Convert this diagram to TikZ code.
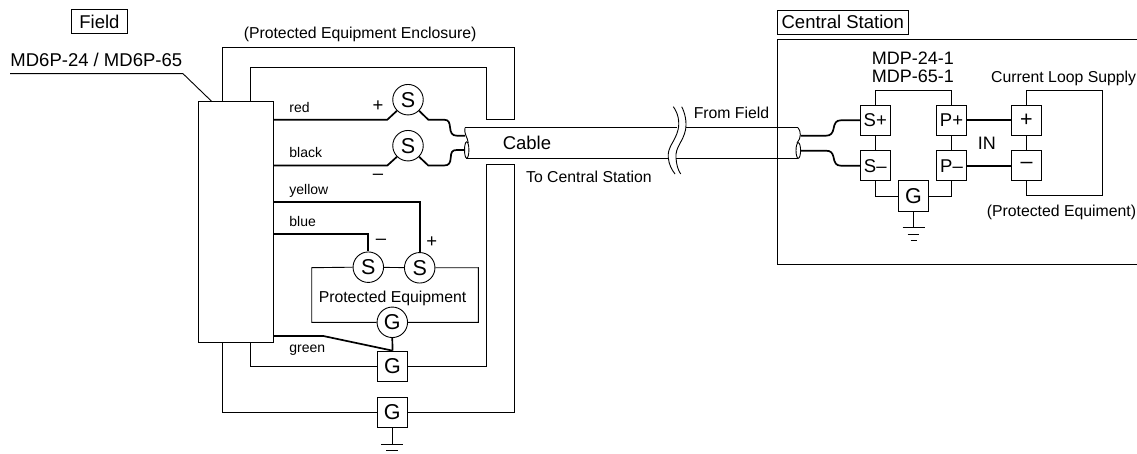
\documentclass[tikz,border=0pt]{standalone}
\usepackage{fontspec}
\setmainfont{Liberation Sans}
\usetikzlibrary{positioning}
\newcommand{\termfont}{\fontsize{21.5}{23}\selectfont}
\newcommand{\bigfont}{\fontsize{18.5}{20}\selectfont}
\newcommand{\smallfont}{\fontsize{15.8}{18}\selectfont}
\newcommand{\tinyfont}{\fontsize{14}{16}\selectfont}
\tikzset{round term/.style={circle,draw,fill=white,minimum size=30.5pt,inner sep=0pt,font=\termfont},
         box term/.style={rectangle,draw,fill=white,minimum size=30.2pt,inner sep=0pt,font=\termfont},
         pin term/.style={box term,font=\bigfont},
         title box/.style={rectangle,draw,minimum height=24pt,inner sep=0pt,font=\bigfont},
         big label/.style={anchor=base west,inner sep=0pt,font=\bigfont},
         edge label/.style={anchor=base west,inner sep=0pt,font=\smallfont},
         wire label/.style={anchor=base west,inner sep=0pt,font=\tinyfont},
         sign label/.style={inner sep=0pt,font=\bigfont},
         wire/.style={line width=1.7pt},
         frame/.style={line width=0.9pt}
}

\begin{document}
\begin{tikzpicture}[x=1pt,y=-1pt,frame]
    \useasboundingbox (0,0) rectangle (1137,454);

    % field side
    \node[title box,minimum width=56.5pt] (fieldTitle) at (99.4,21.6) {Field};
    \node[big label] (modelField) at (10,66.7) {MD6P-24 / MD6P-65};
    \node[rectangle,draw,minimum width=75.5pt,minimum height=240.6pt,inner sep=0pt] (block) at (235.8,222) {};
    \node[edge label] (enclosureLabel) at (243.3,38.3) {(Protected Equipment Enclosure)};

    \coordinate (leaderA) at (10,73.7);
    \coordinate (leaderB) at (183,73.7);
    \coordinate (leaderC) at (212,101.7);
    \draw (leaderA) -- (leaderB) -- (leaderC);

    % enclosure walls
    \coordinate (outerA) at (222,101.7);
    \coordinate (outerB) at (222,47.3);
    \coordinate (outerC) at (514.7,47.3);
    \coordinate (outerD) at (514.7,119.3);
    \coordinate (outerE) at (486.7,119.3);
    \coordinate (outerF) at (486.7,67);
    \coordinate (outerG) at (250.3,67);
    \coordinate (outerH) at (250.3,101.7);
    \draw (outerA) -- (outerB) -- (outerC) -- (outerD) -- (outerE) -- (outerF) -- (outerG) -- (outerH);

    \node[box term] (gInner) at (392.5,366.2) {G};
    \node[box term] (gOuter) at (392.3,412.3) {G};
    \coordinate (lowerA) at (486.7,164.7);
    \coordinate (lowerB) at (514.7,164.7);
    \draw (gInner.east) -| (lowerA) -- (lowerB) |- (gOuter.east);
    \draw (gInner.west) -| (250.7,342.3);
    \draw (gOuter.west) -| (222,342.3);

    % protected equipment
    \node[round term] (sNeg) at (368.3,267.2) {S};
    \node[round term] (sPos) at (419.7,267.8) {S};
    \node[round term] (gEquip) at (392.3,322.3) {G};
    \node[edge label] (equipLabel) at (318.3,302) {Protected Equipment};
    \coordinate (equipA) at (311.7,267.7);
    \coordinate (equipB) at (478.3,267.7);
    \draw (sNeg) -- (sPos);
    \draw (sNeg.west) -- (equipA) |- (gEquip.west);
    \draw (sPos.east) -- (equipB) |- (gEquip.east);

    % wires out of the block
    \node[round term] (sRed) at (408,99.7) {S};
    \node[round term] (sBlack) at (408,145.7) {S};
    \coordinate (redEnd) at (465,135.7);
    \coordinate (blackEnd) at (465,150);
    \draw[wire] (273.5,119.7) -- (387.3,119.7) -- (sRed.225);
    \draw[wire] (sRed.315) -- (428.3,119.7) -- (444,119.7) .. controls (449,119.7) and (449.5,123) .. (450,127) .. controls (450.5,133) and (452,135.7) .. (457,135.7) -- (redEnd);
    \draw[wire] (273.5,165.5) -- (387.3,165.5) -- (sBlack.225);
    \draw[wire] (sBlack.315) -- (428.3,165.5) -- (444,165.5) .. controls (449,165.5) and (450.3,163) .. (450.7,158) .. controls (451,152) and (452,150) .. (457,150) -- (blackEnd);
    \draw[wire] (273.5,202) -| (sPos.north);
    \draw[wire] (273.5,234.3) -| (sNeg.north);
    \draw[wire] (273.5,336) -- (323.3,336) -- (gInner.north);
    \draw[wire] (gEquip.south) -- (gInner.north);

    \node[wire label] (redLabel) at (289,112.7) {red};
    \node[wire label] (blackLabel) at (289,157.7) {black};
    \node[wire label] (yellowLabel) at (289,195) {yellow};
    \node[wire label] (blueLabel) at (289,226.7) {blue};
    \node[wire label] (greenLabel) at (289,352.3) {green};
    \node[sign label] (redSign) at (378,106) {+};
    \node[sign label] (blackSign) at (378,176.7) {–};
    \node[sign label] (negSign) at (381,241.7) {–};
    \node[sign label] (posSign) at (431.7,241.7) {+};

    % ground of the field side
    \coordinate (earthA) at (392.3,444.3);
    \draw (gOuter.south) -- (earthA);
    \draw (381,444.3) -- (403.3,444.3);
    \draw (386,450.7) -- (398.3,450.7);

    % cable
    \coordinate (cableA) at (465,127.7);
    \coordinate (cableB) at (676.7,127.7);
    \coordinate (cableC) at (686,127.7);
    \coordinate (cableD) at (798,127.7);
    \coordinate (cableE) at (466,158.3);
    \coordinate (cableF) at (668.3,158.3);
    \coordinate (cableG) at (676,158.3);
    \coordinate (cableH) at (798,158.3);
    \draw (cableA) -- (cableB);
    \draw (cableC) -- (cableD);
    \draw (cableE) -- (cableF);
    \draw (cableG) -- (cableH);
    \draw (cableA) .. controls (463.5,133) and (467.5,137) .. (468.3,143);
    \draw (cableD) .. controls (801,131) and (801.5,138) .. (797,143);
    \draw (466.7,150) ellipse (2.2 and 8.2);
    \draw (798.3,150.5) ellipse (2.3 and 7.8);
    \draw (673.3,106.7) .. controls (678,113) and (680,122) .. (678,130) .. controls (675,142) and (667,147) .. (668.3,158) .. controls (669,165) and (672,170) .. (675,174);
    \draw (681.7,106.7) .. controls (685,113) and (687,122) .. (685.5,130) .. controls (683,142) and (675,147) .. (676,158) .. controls (676.5,165) and (678,170) .. (680.7,174);
    \node[big label] (cableLabel) at (502.3,149.3) {Cable};
    \node[edge label] (fromLabel) at (693.3,119) {From Field};
    \node[edge label] (toLabel) at (525.7,182.3) {To Central Station};

    % central station
    \node[title box,minimum width=131pt] (stationTitle) at (842.8,22) {Central Station};
    \coordinate (stationA) at (1137,39.3);
    \coordinate (stationB) at (777.3,39.3);
    \coordinate (stationC) at (777.3,264.3);
    \coordinate (stationD) at (1137,264.3);
    \draw (stationA) -- (stationB) -- (stationC) -- (stationD);
    \node[big label,anchor=base,font=\fontsize{18}{20}\selectfont] (modelA) at (912.8,65) {MDP-24-1};
    \node[big label,anchor=base,font=\fontsize{18}{20}\selectfont] (modelB) at (912.8,82.7) {MDP-65-1};
    \node[edge label] (loopLabel) at (990.7,82.7) {Current Loop Supply};
    \node[edge label,anchor=base east] (loopEquip) at (1136.5,216.7) {(Protected Equiment)};
    \node[big label,font=\fontsize{18}{20}\selectfont] (inLabel) at (977.3,150) {IN};

    \node[pin term] (sPlus) at (875.3,120.3) {S+};
    \node[pin term] (sMinus) at (875.3,165.7) {S–};
    \node[pin term] (pPlus) at (951.5,120.3) {P+};
    \node[pin term] (pMinus) at (951.5,165.7) {P–};
    \node[box term] (loopPlus) at (1026.5,120.3) {+};
    \node[box term] (loopMinus) at (1026.5,165.7) {–};
    \node[box term] (gCentral) at (913.5,196) {G};

    \coordinate (bridgeA) at (875.3,90.3);
    \coordinate (bridgeB) at (951.5,90.3);
    \coordinate (loopA) at (1026.5,90.3);
    \coordinate (loopB) at (1102.3,90.3);
    \coordinate (loopC) at (1102.3,195.7);
    \coordinate (loopD) at (1026.5,195.7);
    \draw (sPlus.north) -- (bridgeA) -- (bridgeB) -- (pPlus.north);
    \draw (sPlus) -- (sMinus);
    \draw (pPlus) -- (pMinus);
    \draw (loopPlus) -- (loopMinus);
    \draw (sMinus.south) |- (gCentral.west);
    \draw (pMinus.south) |- (gCentral.east);
    \draw (loopPlus.north) -- (loopA) -- (loopB) -- (loopC) -- (loopD) -- (loopMinus.south);
    \draw[wire] (pPlus) -- (loopPlus);
    \draw[wire] (pMinus) -- (loopMinus);

    \coordinate (wireTop) at (800.7,135.7);
    \coordinate (wireBot) at (800.7,150.7);
    \draw[wire] (wireTop) -- (826,135.7) .. controls (831,135.7) and (832.5,133) .. (833.5,129) .. controls (834.5,123) and (836,120.3) .. (841,120.3) -- (sPlus.west);
    \draw[wire] (wireBot) -- (826,150.7) .. controls (831,150.7) and (832.5,153) .. (833.5,157) .. controls (834.5,163) and (836,165.7) .. (841,165.7) -- (sMinus.west);

    % ground of the station
    \coordinate (earthB) at (913.5,227.7);
    \draw (gCentral.south) -- (earthB);
    \draw (902.7,227.7) -- (925,227.7);
    \draw (907.7,234.3) -- (919.3,234.3);
    \draw (910.7,240.7) -- (916.7,240.7);
\end{tikzpicture}
\end{document}
